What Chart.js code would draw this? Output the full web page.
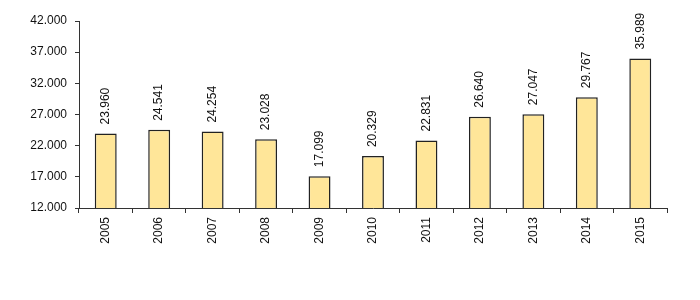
<!doctype html>
<html>
<head>
<meta charset="utf-8">
<script src="https://cdn.jsdelivr.net/npm/chart.js@4/dist/chart.umd.min.js"></script>
<style>
  html, body { margin: 0; padding: 0; background: #fff; }
  #wrap { width: 700px; height: 300px; }
</style>
</head>
<body>
<div id="wrap"><canvas id="chart"></canvas></div>
<script>
  // data
  const years = ['2005', '2006', '2007', '2008', '2009', '2010', '2011', '2012', '2013', '2014', '2015'];
  const values = [23960, 24541, 24254, 23028, 17099, 20329, 22831, 26640, 27047, 29767, 35989];
  const yMin = 12000, yMax = 42000, yStep = 5000;

  const fmt = v => v.toLocaleString('de-DE');

  // value labels, rotated, above each bar
  const barLabels = {
    id: 'barLabels',
    afterDatasetsDraw(chart) {
      const ctx = chart.ctx;
      const meta = chart.getDatasetMeta(0);
      ctx.save();
      ctx.font = '12px "Liberation Sans", Arial, sans-serif';
      ctx.fillStyle = '#111';
      ctx.textAlign = 'left';
      ctx.textBaseline = 'middle';
      meta.data.forEach((bar, i) => {
        ctx.save();
        ctx.translate(bar.x, bar.y - 9);
        ctx.rotate(-Math.PI / 2);
        ctx.fillText(fmt(values[i]), 0, 0);
        ctx.restore();
      });
      ctx.restore();
    }
  };

  Chart.defaults.font.family = '"Liberation Sans", Arial, sans-serif';
  Chart.defaults.font.size = 12;
  Chart.defaults.color = '#111';

  new Chart(document.getElementById('chart').getContext('2d'), {
    type: 'bar',
    data: {
      labels: years,
      datasets: [{
        data: values,
        backgroundColor: '#FFE699',
        borderColor: '#222',
        borderWidth: 1.5,
        barPercentage: 0.82,
        categoryPercentage: 0.5
      }]
    },
    options: {
      responsive: true,
      maintainAspectRatio: false,
      animation: false,
      layout: { padding: { top: 21, right: 33, bottom: 0, left: 0 } },
      plugins: {
        legend: { display: false },
        tooltip: { enabled: false }
      },
      scales: {
        x: {
          grid: { drawOnChartArea: false, drawTicks: true, tickLength: 5, color: '#333' },
          border: { color: '#333' },
          ticks: { minRotation: 90, maxRotation: 90, padding: 4 },
          afterFit(scale) { scale.height = 92; }
        },
        y: {
          min: yMin,
          max: yMax,
          grid: { drawOnChartArea: false, drawTicks: true, tickLength: 4, color: '#333' },
          border: { color: '#333' },
          ticks: { stepSize: yStep, padding: 8, callback: v => fmt(v) },
          afterFit(scale) { scale.width = 79; }
        }
      }
    },
    plugins: [barLabels]
  });
</script>
</body>
</html>
